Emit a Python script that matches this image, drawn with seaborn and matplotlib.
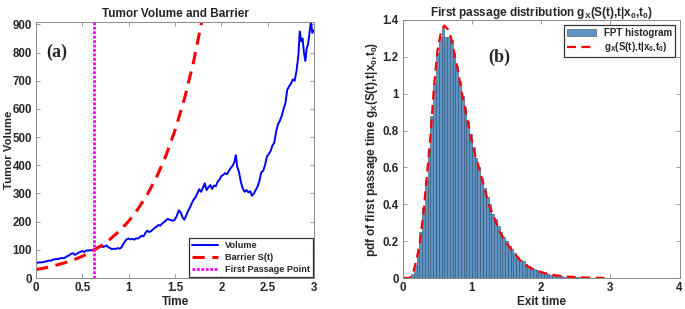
import numpy as np
import matplotlib
matplotlib.use('Agg')
import matplotlib.pyplot as plt
import seaborn as sns

sns.set_style("ticks")
plt.rcParams['font.family'] = ['Liberation Sans', 'DejaVu Sans']
plt.rcParams['font.weight'] = 'bold'
plt.rcParams['mathtext.fontset'] = 'custom'
plt.rcParams['mathtext.bf'] = 'Liberation Sans:bold'
plt.rcParams['mathtext.rm'] = 'Liberation Sans:bold'
plt.rcParams['mathtext.default'] = 'bf'

#=======================
# panel (a) : simulated tumor volume, barrier and first passage
t_vol = [0.00, 0.02, 0.04, 0.06, 0.08, 0.10, 0.12, 0.14, 0.16, 0.18, 0.20, 0.22, 0.24, 0.26,
         0.28, 0.30, 0.32, 0.34, 0.36, 0.38, 0.40, 0.42, 0.44, 0.46, 0.48, 0.50, 0.52, 0.54,
         0.56, 0.58, 0.60, 0.62, 0.64, 0.66, 0.68, 0.70, 0.72, 0.74, 0.76, 0.78, 0.80, 0.82,
         0.84, 0.86, 0.88, 0.90, 0.92, 0.94, 0.96, 0.98, 1.00, 1.02, 1.04, 1.06, 1.08, 1.10,
         1.12, 1.14, 1.16, 1.18, 1.20, 1.22, 1.24, 1.26, 1.28, 1.30, 1.32, 1.34, 1.36, 1.38,
         1.40, 1.42, 1.44, 1.46, 1.48, 1.50, 1.52, 1.54, 1.56, 1.58, 1.60, 1.62, 1.64, 1.66,
         1.68, 1.70, 1.72, 1.74, 1.76, 1.78, 1.80, 1.82, 1.84, 1.86, 1.88, 1.90, 1.92, 1.94,
         1.96, 1.98, 2.00, 2.02, 2.04, 2.06, 2.08, 2.10, 2.12, 2.14, 2.155, 2.17, 2.19, 2.21,
         2.23, 2.25, 2.27, 2.29, 2.31, 2.33, 2.35, 2.37, 2.39, 2.41, 2.43, 2.45, 2.47, 2.49,
         2.51, 2.53, 2.55, 2.57, 2.59, 2.61, 2.63, 2.65, 2.67, 2.69, 2.71, 2.73, 2.75, 2.77,
         2.79, 2.81, 2.83, 2.845, 2.86, 2.875, 2.89, 2.905, 2.92, 2.935, 2.95, 2.965, 2.98, 3.00]
volume = [55, 54, 56, 55, 57, 58, 60, 62, 61, 65, 66, 68, 67, 70,
          71, 70, 74, 78, 81, 86, 88, 82, 86, 90, 93, 96, 92, 98,
          97, 99, 98, 101, 104, 108, 111, 113, 110, 112, 116, 109, 106, 102,
          104, 103, 106, 104, 108, 120, 130, 138, 140, 137, 139, 136, 141, 140,
          145, 150, 148, 160, 168, 163, 166, 172, 178, 182, 188, 186, 193, 198,
          204, 210, 207, 205, 203, 208, 222, 240, 233, 215, 207, 222, 238, 250,
          265, 278, 286, 300, 315, 306, 320, 336, 312, 322, 330, 316, 328, 326,
          342, 350, 362, 366, 372, 368, 380, 390, 398, 412, 436, 395, 375, 340,
          318, 306, 312, 304, 308, 292, 300, 312, 325, 345, 375, 380, 400, 430,
          440, 450, 470, 480, 520, 545, 558, 575, 600, 620, 668, 680, 690, 705,
          700, 735, 790, 875, 840, 850, 800, 770, 815, 830, 870, 910, 870, 880]

t_bar = [0.0, 0.1, 0.2, 0.3, 0.4, 0.5, 0.6, 0.7, 0.8, 0.9, 1.0, 1.1, 1.2, 1.3,
         1.4, 1.5, 1.6, 1.7, 1.8]
barrier = [30, 36, 44, 53, 64, 77, 94, 114, 138, 167, 202, 245, 296, 358,
           433, 525, 635, 768, 930]

t_first = 0.63

#=======================
# panel (b) : first passage time histogram and density
bin_edges = [0.12, 0.16, 0.20, 0.24, 0.28, 0.32, 0.36, 0.40, 0.44, 0.48, 0.52, 0.56, 0.60,
             0.64, 0.68, 0.72, 0.76, 0.80, 0.84, 0.88, 0.92, 0.96, 1.00, 1.04, 1.08, 1.12,
             1.16, 1.20, 1.24, 1.28, 1.32, 1.36, 1.40, 1.44, 1.48, 1.52, 1.56, 1.60, 1.64,
             1.68, 1.72, 1.76, 1.80, 1.84, 1.88, 1.92, 1.96, 2.00, 2.04, 2.08, 2.12, 2.16,
             2.20, 2.24, 2.28, 2.32, 2.36, 2.40, 2.44, 2.48, 2.52, 2.56, 2.60, 2.64, 2.68,
             2.72, 2.76, 2.80, 2.84, 2.88, 2.92, 2.96]
fpt_height = [0.02, 0.07, 0.15, 0.25, 0.38, 0.53, 0.70, 0.88, 1.06, 1.22, 1.31, 1.36,
              1.31, 1.31, 1.29, 1.22, 1.15, 1.07, 0.99, 0.93, 0.85, 0.78, 0.71, 0.65,
              0.60, 0.54, 0.49, 0.44, 0.40, 0.35, 0.32, 0.28, 0.25, 0.22, 0.20, 0.175,
              0.155, 0.135, 0.115, 0.10, 0.09, 0.075, 0.065, 0.055, 0.048, 0.042, 0.036,
              0.030, 0.026, 0.022, 0.019, 0.016, 0.013, 0.011, 0.010, 0.008, 0.007, 0.006,
              0.005, 0.004, 0.004, 0.003, 0.003, 0.002, 0.002, 0.002, 0.001, 0.001, 0.001,
              0.001, 0.0005]

t_pdf = [0.0, 0.1, 0.15, 0.2, 0.25, 0.3, 0.35, 0.4, 0.45, 0.5, 0.55, 0.6, 0.65, 0.7,
         0.75, 0.8, 0.85, 0.9, 0.95, 1.0, 1.05, 1.1, 1.15, 1.2, 1.25, 1.3, 1.35, 1.4,
         1.5, 1.6, 1.7, 1.8, 1.9, 2.0, 2.1, 2.2, 2.3, 2.4, 2.6, 2.8, 2.95]
pdf = [0.0, 0.0, 0.03, 0.10, 0.20, 0.36, 0.56, 0.77, 1.03, 1.23, 1.33, 1.37, 1.35, 1.30,
       1.21, 1.12, 1.01, 0.92, 0.83, 0.74, 0.66, 0.60, 0.53, 0.46, 0.39, 0.35, 0.30, 0.25,
       0.19, 0.14, 0.095, 0.065, 0.045, 0.032, 0.022, 0.015, 0.010, 0.007, 0.003, 0.001, 0.0]

bin_mid = [(a + b) / 2 for a, b in zip(bin_edges[:-1], bin_edges[1:])]

#=======================
fig = plt.figure(figsize=(6.85, 3.09), dpi=100)
ax1 = fig.add_axes([0.0526, 0.1003, 0.406, 0.830])
ax2 = fig.add_axes([0.588, 0.1003, 0.404, 0.835])

sns.lineplot(x=t_vol, y=volume, ax=ax1, color='#0000ff', lw=1.4, estimator=None,
             sort=False, label='Volume')
sns.lineplot(x=t_bar, y=barrier, ax=ax1, color='#ff0000', lw=2.2, estimator=None,
             label='Barrier S(t)', linestyle=(0, (4, 2.5)))
ax1.axvline(t_first, color='#ff00ff', lw=2, linestyle=(0, (1, 0.6)), label='First Passage Point')
ax1.set_xlim(0, 3)
ax1.set_ylim(0, 910)
ax1.set_xticks([0, 0.5, 1, 1.5, 2, 2.5, 3])
ax1.set_xticklabels(['0', '0.5', '1', '1.5', '2', '2.5', '3'])
ax1.set_yticks(range(0, 901, 100))
ax1.set_xlabel('Time', fontsize=8.5, fontweight='bold', labelpad=1)
ax1.set_ylabel('Tumor Volume', fontsize=8.2, fontweight='bold')
ax1.yaxis.set_label_coords(-0.078, 0.5)
ax1.set_title('Tumor Volume and Barrier', fontsize=8.5, fontweight='bold', pad=3)
ax1.text(0.11, 800, '(a)', family='Liberation Serif', fontsize=13, fontweight='bold',
         va='center')
leg1 = ax1.legend(loc='lower right', fontsize=6.6, frameon=True, fancybox=False,
                  borderaxespad=0.1, handlelength=2.8, borderpad=0.35, labelspacing=0.3)
leg1.get_frame().set_edgecolor('black')
leg1.get_frame().set_linewidth(0.9)

sns.histplot(x=bin_mid, weights=fpt_height, bins=bin_edges, ax=ax2, stat='count',
             color='#5f94c2', edgecolor='#2c4e6e', linewidth=0.4, alpha=1,
             label='FPT histogram')
sns.lineplot(x=t_pdf, y=pdf, ax=ax2, color='#ff0000', lw=1.6, estimator=None,
             label=r'g$_X$(S(t),t|x$_0$,t$_0$)', linestyle=(0, (4, 2.5)))
ax2.set_xlim(0, 4)
ax2.set_ylim(0, 1.4)
ax2.set_xticks([0, 1, 2, 3, 4])
ax2.set_yticks([0, 0.2, 0.4, 0.6, 0.8, 1, 1.2, 1.4])
ax2.set_yticklabels(['0', '0.2', '0.4', '0.6', '0.8', '1', '1.2', '1.4'])
ax2.set_xlabel('Exit time', fontsize=8.5, fontweight='bold', labelpad=1)
ax2.set_ylabel(r'pdf of first passage time g$_X$(S(t),t|x$_0$,t$_0$)', fontsize=8.5,
               fontweight='bold', labelpad=2)
ax2.set_title(r'First passage distribution g$_X$(S(t),t|x$_0$,t$_0$)', fontsize=8.5,
              fontweight='bold', pad=3)
ax2.text(1.23, 1.2, '(b)', family='Liberation Serif', fontsize=13, fontweight='bold',
         va='center')
handles, labels = ax2.get_legend_handles_labels()
order = [labels.index('FPT histogram')] + [i for i, l in enumerate(labels) if l != 'FPT histogram']
leg2 = ax2.legend([handles[i] for i in order], [labels[i] for i in order],
                  loc='upper right', fontsize=7, frameon=True, fancybox=False,
                  borderaxespad=0.5, handlelength=3.0, borderpad=0.3, labelspacing=0.25)
leg2.get_frame().set_edgecolor('black')
leg2.get_frame().set_linewidth(0.9)

for ax in (ax1, ax2):
    ax.tick_params(direction='in', top=True, right=True, length=3, width=0.6,
                   labelsize=8.3, pad=3)
    for lbl in ax.get_xticklabels() + ax.get_yticklabels():
        lbl.set_fontweight('bold')
    for sp in ax.spines.values():
        sp.set_visible(True)
        sp.set_color('#8a8a8a')
        sp.set_linewidth(0.7)
    ax.tick_params(colors='#8a8a8a', labelcolor='#262626')

fig.savefig('out.png', dpi=100)
